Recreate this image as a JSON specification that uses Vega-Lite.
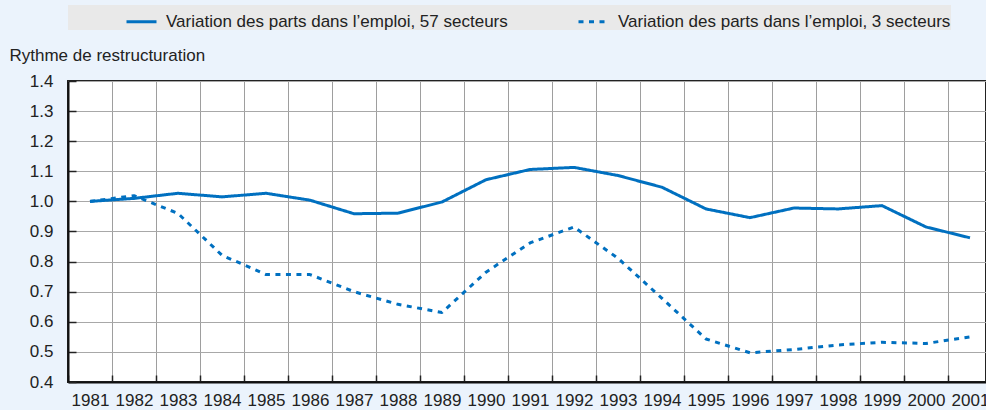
{
  "$schema": "https://vega.github.io/schema/vega-lite/v6.json",
  "autosize": {"type": "none"},
  "width": 918,
  "height": 301,
  "padding": {"left": 68, "top": 81, "right": 0, "bottom": 28},
  "background": "#EBF3FC",
  "config": {
    "font": "Liberation Sans",
    "view": {"fill": "white", "stroke": "#222222", "strokeWidth": 2},
    "axis": {"labelFont": "Liberation Sans", "labelFontSize": 17, "labelColor": "#222222", "titleFont": "Liberation Sans"}
  },
  "data": {
    "values": [
      {"year": 1981, "series": "Variation des parts dans l’emploi, 57 secteurs", "value": 1.0},
      {"year": 1982, "series": "Variation des parts dans l’emploi, 57 secteurs", "value": 1.01},
      {"year": 1983, "series": "Variation des parts dans l’emploi, 57 secteurs", "value": 1.027},
      {"year": 1984, "series": "Variation des parts dans l’emploi, 57 secteurs", "value": 1.015},
      {"year": 1985, "series": "Variation des parts dans l’emploi, 57 secteurs", "value": 1.027},
      {"year": 1986, "series": "Variation des parts dans l’emploi, 57 secteurs", "value": 1.004},
      {"year": 1987, "series": "Variation des parts dans l’emploi, 57 secteurs", "value": 0.959},
      {"year": 1988, "series": "Variation des parts dans l’emploi, 57 secteurs", "value": 0.961},
      {"year": 1989, "series": "Variation des parts dans l’emploi, 57 secteurs", "value": 0.998},
      {"year": 1990, "series": "Variation des parts dans l’emploi, 57 secteurs", "value": 1.072},
      {"year": 1991, "series": "Variation des parts dans l’emploi, 57 secteurs", "value": 1.106},
      {"year": 1992, "series": "Variation des parts dans l’emploi, 57 secteurs", "value": 1.113},
      {"year": 1993, "series": "Variation des parts dans l’emploi, 57 secteurs", "value": 1.086},
      {"year": 1994, "series": "Variation des parts dans l’emploi, 57 secteurs", "value": 1.047},
      {"year": 1995, "series": "Variation des parts dans l’emploi, 57 secteurs", "value": 0.975},
      {"year": 1996, "series": "Variation des parts dans l’emploi, 57 secteurs", "value": 0.946},
      {"year": 1997, "series": "Variation des parts dans l’emploi, 57 secteurs", "value": 0.978},
      {"year": 1998, "series": "Variation des parts dans l’emploi, 57 secteurs", "value": 0.975},
      {"year": 1999, "series": "Variation des parts dans l’emploi, 57 secteurs", "value": 0.986},
      {"year": 2000, "series": "Variation des parts dans l’emploi, 57 secteurs", "value": 0.915},
      {"year": 2001, "series": "Variation des parts dans l’emploi, 57 secteurs", "value": 0.879},
      {"year": 1981, "series": "Variation des parts dans l’emploi, 3 secteurs", "value": 1.0},
      {"year": 1982, "series": "Variation des parts dans l’emploi, 3 secteurs", "value": 1.019},
      {"year": 1983, "series": "Variation des parts dans l’emploi, 3 secteurs", "value": 0.96},
      {"year": 1984, "series": "Variation des parts dans l’emploi, 3 secteurs", "value": 0.821},
      {"year": 1985, "series": "Variation des parts dans l’emploi, 3 secteurs", "value": 0.757},
      {"year": 1986, "series": "Variation des parts dans l’emploi, 3 secteurs", "value": 0.757},
      {"year": 1987, "series": "Variation des parts dans l’emploi, 3 secteurs", "value": 0.7},
      {"year": 1988, "series": "Variation des parts dans l’emploi, 3 secteurs", "value": 0.658},
      {"year": 1989, "series": "Variation des parts dans l’emploi, 3 secteurs", "value": 0.631},
      {"year": 1990, "series": "Variation des parts dans l’emploi, 3 secteurs", "value": 0.765},
      {"year": 1991, "series": "Variation des parts dans l’emploi, 3 secteurs", "value": 0.862},
      {"year": 1992, "series": "Variation des parts dans l’emploi, 3 secteurs", "value": 0.915},
      {"year": 1993, "series": "Variation des parts dans l’emploi, 3 secteurs", "value": 0.811},
      {"year": 1994, "series": "Variation des parts dans l’emploi, 3 secteurs", "value": 0.678},
      {"year": 1995, "series": "Variation des parts dans l’emploi, 3 secteurs", "value": 0.543},
      {"year": 1996, "series": "Variation des parts dans l’emploi, 3 secteurs", "value": 0.497},
      {"year": 1997, "series": "Variation des parts dans l’emploi, 3 secteurs", "value": 0.508},
      {"year": 1998, "series": "Variation des parts dans l’emploi, 3 secteurs", "value": 0.523},
      {"year": 1999, "series": "Variation des parts dans l’emploi, 3 secteurs", "value": 0.532},
      {"year": 2000, "series": "Variation des parts dans l’emploi, 3 secteurs", "value": 0.528},
      {"year": 2001, "series": "Variation des parts dans l’emploi, 3 secteurs", "value": 0.55}
    ]
  },
  "mark": {"type": "line", "strokeWidth": 3, "strokeCap": "butt", "strokeJoin": "round"},
  "encoding": {
    "x": {
      "field": "year",
      "type": "ordinal",
      "scale": {"type": "band", "range": [0, 924], "paddingInner": 0, "paddingOuter": 0},
      "axis": {
        "title": null,
        "labelAngle": 0,
        "tickBand": "extent",
        "grid": true,
        "gridColor": "#9E9E9E",
        "gridWidth": 1,
        "ticks": true,
        "tickSize": -7,
        "tickColor": "#222222",
        "tickWidth": 1.5,
        "domainColor": "#111111",
        "domainWidth": 2,
        "labelPadding": 17
      }
    },
    "y": {
      "field": "value",
      "type": "quantitative",
      "scale": {"domain": [0.4, 1.4], "nice": false, "zero": false},
      "axis": {
        "values": [0.4, 0.5, 0.6, 0.7, 0.8, 0.9, 1.0, 1.1, 1.2, 1.3, 1.4],
        "format": ".1f",
        "grid": true,
        "gridColor": "#A8A8A8",
        "gridWidth": 1,
        "ticks": true,
        "tickSize": -8,
        "tickColor": "#222222",
        "tickWidth": 1.5,
        "domainColor": "#111111",
        "domainWidth": 2,
        "labelPadding": 23,
        "title": "Rythme de restructuration",
        "titleAngle": 0,
        "titleAlign": "left",
        "titleBaseline": "middle",
        "titleX": -59,
        "titleY": -26,
        "titleFontSize": 17,
        "titleFontWeight": "normal",
        "titleColor": "#222222"
      }
    },
    "color": {
      "field": "series",
      "type": "nominal",
      "scale": {
        "domain": ["Variation des parts dans l’emploi, 57 secteurs", "Variation des parts dans l’emploi, 3 secteurs"],
        "range": ["#0070C0", "#0070C0"]
      },
      "legend": {
        "title": null,
        "orient": "none",
        "legendX": 0,
        "legendY": -76,
        "direction": "horizontal",
        "columns": 2,
        "gridAlign": "all",
        "fillColor": "#E9E9E9",
        "padding": 0,
        "symbolType": "stroke",
        "symbolStrokeWidth": 3,
        "symbolSize": 900,
        "symbolOffset": 57,
        "columnPadding": 12,
        "labelOffset": 8,
        "labelFont": "Liberation Sans",
        "labelFontSize": 17,
        "labelColor": "#222222",
        "labelLimit": 500
      }
    },
    "strokeDash": {
      "field": "series",
      "type": "nominal",
      "scale": {
        "domain": ["Variation des parts dans l’emploi, 57 secteurs", "Variation des parts dans l’emploi, 3 secteurs"],
        "range": [[1, 0], [5, 5.5]]
      },
      "legend": {
        "title": null,
        "orient": "none",
        "legendX": 0,
        "legendY": -76,
        "direction": "horizontal",
        "columns": 2,
        "gridAlign": "all",
        "fillColor": "#E9E9E9",
        "padding": 0,
        "symbolType": "stroke",
        "symbolStrokeWidth": 3,
        "symbolSize": 900,
        "symbolOffset": 57,
        "columnPadding": 12,
        "labelOffset": 8,
        "labelFont": "Liberation Sans",
        "labelFontSize": 17,
        "labelColor": "#222222",
        "labelLimit": 500
      }
    }
  }
}
